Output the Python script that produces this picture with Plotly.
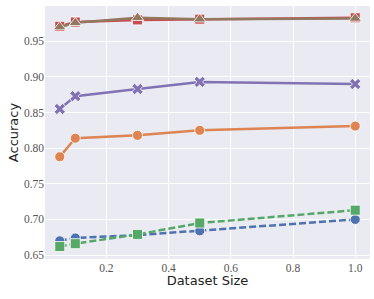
import plotly.graph_objects as go

sizes = [0.05, 0.1, 0.3, 0.5, 1.0]
red_sq = [0.971, 0.977, 0.980, 0.981, 0.983]
brown_tri = [0.970, 0.976, 0.983, 0.981, 0.982]
purple_x = [0.855, 0.873, 0.883, 0.893, 0.890]
orange_c = [0.788, 0.814, 0.818, 0.825, 0.831]
blue_c = [0.670, 0.674, 0.678, 0.684, 0.700]
green_sq = [0.662, 0.666, 0.679, 0.695, 0.713]

x_ticks = [0.2, 0.4, 0.6, 0.8, 1.0]
x_tick_text = ["0.2", "0.4", "0.6", "0.8", "1.0"]
y_ticks = [0.65, 0.70, 0.75, 0.80, 0.85, 0.90, 0.95]
y_tick_text = ["0.65", "0.70", "0.75", "0.80", "0.85", "0.90", "0.95"]

series = [
    (blue_c, "#4C72B0", "circle", "dash", 10),
    (orange_c, "#DD8452", "circle", "solid", 10),
    (green_sq, "#55A868", "square", "dash", 10),
    (red_sq, "#C44E52", "square", "solid", 10),
    (purple_x, "#8172B3", "x", "solid", 10),
    (brown_tri, "#937860", "triangle-up", "solid", 11),
]

tickfont = dict(family="Liberation Serif, serif", size=11.5, color="#555555")

fig = go.Figure()
for vals, col, sym, dash, ms in series:
    fig.add_trace(go.Scatter(
        x=sizes, y=vals, mode="lines+markers",
        line=dict(color=col, width=2.5, dash="7px,3px" if dash == "dash" else "solid"),
        marker=dict(symbol=sym, size=ms, color=col, line=dict(color="white", width=0.8)),
        showlegend=False, cliponaxis=False,
    ))

fig.update_layout(
    width=374, height=299,
    margin=dict(l=45, r=4, t=6, b=40, autoexpand=False),
    paper_bgcolor="white",
    plot_bgcolor="#EAEAF2",
    font=tickfont,
)
fig.update_xaxes(
    range=[0.0025, 1.0475], tickvals=x_ticks, ticktext=x_tick_text,
    showgrid=True, gridcolor="white", gridwidth=1, zeroline=False, showline=False,
    ticks="", tickfont=tickfont, automargin=False,
    title=dict(text="Dataset Size", font=dict(family="DejaVu Sans", size=13, color="#222222"), standoff=2),
)
fig.update_yaxes(
    range=[0.6445, 0.9995], tickvals=y_ticks, ticktext=y_tick_text,
    showgrid=True, gridcolor="white", gridwidth=1, zeroline=False, showline=False,
    ticks="", tickfont=tickfont, automargin=False,
    title=dict(text="Accuracy", font=dict(family="DejaVu Sans", size=13, color="#222222"), standoff=2),
)

fig.write_html(
    "out.html",
    config={"displayModeBar": False},
    post_script="document.body.style.margin='0';document.body.style.overflow='hidden';",
)
